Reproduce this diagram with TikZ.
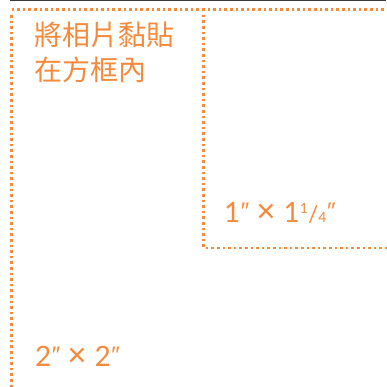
\documentclass[tikz,border=0pt]{standalone}
\usepackage{fontspec}
\newfontfamily\cjk{Noto Sans CJK TC}
\newfontfamily\lat{Lato}
\newfontfamily\ari{Liberation Sans}
\definecolor{orng}{HTML}{F58A3C}
\definecolor{topgray}{HTML}{3A3A3A}
\newcommand{\inchmk}{{\ari\fontsize{24}{24}\selectfont\kern0.5pt\raisebox{2.5pt}{″}}}
\newcommand{\bigtimes}{{\ari\fontsize{33}{33}\selectfont ×}}
\newcommand{\onequarter}{{\fontsize{14}{14}\selectfont\raisebox{8.5pt}{1}}{\fontsize{23}{23}\selectfont /}{\fontsize{14}{14}\selectfont 4}}
\tikzset{
  dotline/.style={draw=orng, line width=2.6pt, dash pattern=on 2.6pt off 3.0pt},
  cjklabel/.style={text=orng, font=\cjk\fontsize{28}{35}\selectfont, inner sep=0pt, anchor=base west, align=left},
  sizelabel/.style={text=orng, font=\lat\fontsize{28}{34}\selectfont, inner sep=0pt, anchor=base west}
}
\begin{document}
\begin{tikzpicture}[x=1pt,y=-1pt]
\useasboundingbox (0,0) rectangle (386,387);
\draw[topgray, line width=1.5pt] (10,0.7) -- (386,0.7);
\coordinate (o1) at (386,9.5);
\coordinate (o2) at (11.5,9.5);
\coordinate (o3) at (11.5,390);
\coordinate (i1) at (203.7,14.8);
\coordinate (i2) at (203.7,248);
\coordinate (i3) at (390,248);
\draw[dotline] (o2) -- (o1);
\draw[dotline] (o2) ++(0,5.5) -- (o3);
\draw[dotline] (i1) -- (i2) -- (i3);
\node[cjklabel] (t1) at (34,45.5) {將相片黏貼};
\node[cjklabel] (t2) at (34,80.5) {在方框內};
\node[sizelabel] (s1) at (224,222) {1\inchmk\hspace{7pt}\bigtimes\hspace{8pt}1\onequarter\inchmk};
\node[sizelabel] (s2) at (35,366) {2\inchmk\hspace{7pt}\bigtimes\hspace{8pt}2\inchmk};
\end{tikzpicture}
\end{document}
